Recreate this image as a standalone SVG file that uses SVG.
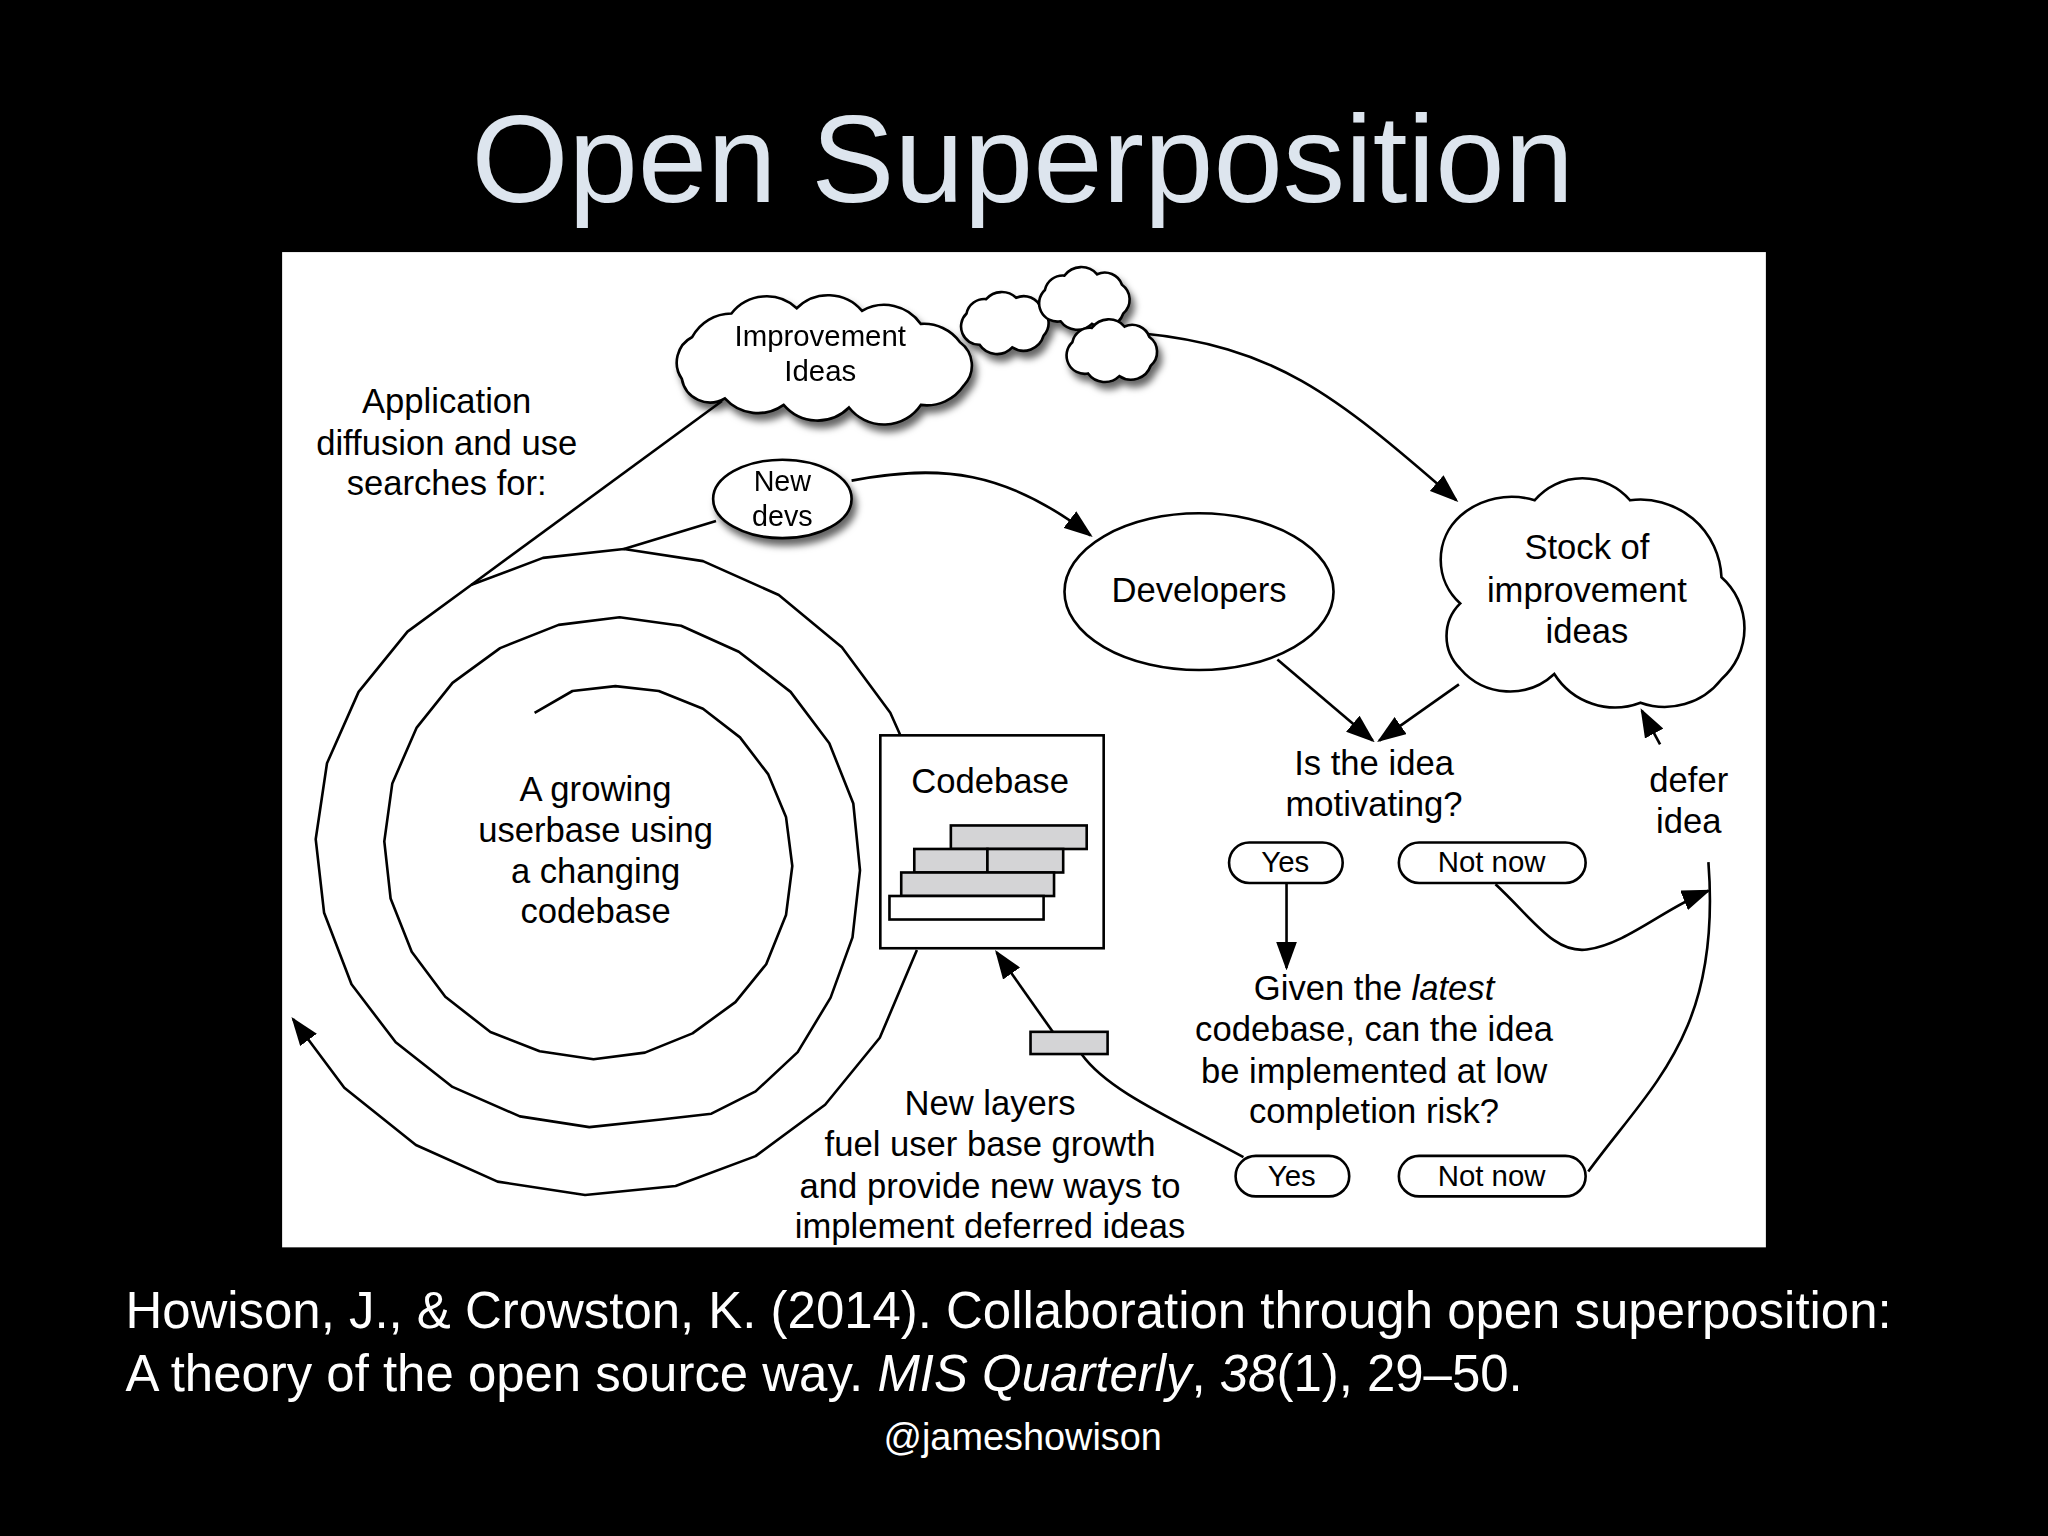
<svg xmlns="http://www.w3.org/2000/svg" width="2048" height="1536" viewBox="0 0 2048 1536">
<defs>
<marker id="ah" markerWidth="11" markerHeight="8" refX="10" refY="4" orient="auto" markerUnits="strokeWidth"><path d="M0,0 L11,4 L0,8 z" fill="#000"/></marker>
<filter id="sh" x="-20%" y="-20%" width="150%" height="160%"><feDropShadow dx="3" dy="5" stdDeviation="3" flood-color="#000" flood-opacity="0.6"/></filter>
</defs>
<style>
.t{font-family:"Liberation Sans",Arial,sans-serif;fill:#000;text-anchor:middle}
.s{fill:#fff;stroke:#000;stroke-width:2}
.l{fill:none;stroke:#000;stroke-width:2}
.sp{fill:none;stroke:#000;stroke-width:2.6;stroke-linejoin:round}
</style>
<rect width="2048" height="1536" fill="#000"/>
<g transform="scale(1.306122)">
<text x="783" y="155" class="t" style="fill:#dde5ee;font-size:95.5px">Open Superposition</text>
<rect x="216" y="193" width="1136" height="762" fill="#fff"/>
<text x="96" y="1017" style="font-family:'Liberation Sans',Arial,sans-serif;font-size:39px;fill:#fff">Howison, J., &amp; Crowston, K. (2014). Collaboration through open superposition:</text>
<text x="96" y="1065" style="font-family:'Liberation Sans',Arial,sans-serif;font-size:39px;fill:#fff">A theory of the open source way. <tspan font-style="italic">MIS Quarterly</tspan>, <tspan font-style="italic">38</tspan>(1), 29–50.</text>
<text x="783" y="1110" class="t" style="fill:#fff;font-size:29px">@jameshowison</text>
</g>
<g id="spiral">
<polyline class="sp" points="534.6,712.8 572.5,691.0 615.4,686.1 658.8,691.0 703.0,708.8 740.0,737.4 768.3,774.4 786.0,816.9 792.3,866.0 786.0,915.1 766.2,964.2 735.4,1002.1 692.5,1033.4 644.9,1052.6 593.5,1059.3 539.7,1051.2 490.4,1032.0 445.3,996.8 411.7,951.7 390.6,898.5 384.3,841.4 392.3,783.4 416.7,727.6 452.5,682.9 500.1,648.1 558.6,624.9 619.6,617.3 681.1,625.8 738.8,651.7 790.6,691.9 829.3,743.2 853.3,803.5 860.0,870.4 852.5,937.4 830.6,997.6 797.7,1052.1 755.6,1091.4 711.4,1113.7 660.9,1119.5 589.3,1127.1 519.9,1116.4 452.5,1086.9 395.7,1042.3 351.5,984.3 324.1,912.8 315.7,839.2 327.0,763.3 358.6,691.9 407.5,631.6 471.5,584.7 543.0,557.9 623.9,549.0 703.0,561.1 778.8,595.0 841.9,647.2 890.3,712.8 900.9,736.5"/>
<polyline class="sp" marker-end="url(#ah)" points="916.9,950 879.8,1037.8 825.1,1104.8 755.6,1156.1 675.6,1186.0 585.1,1195.0 497.6,1181.6 415.9,1145.0 344.3,1087.8 293,1019"/>
<line class="sp" x1="471.5" y1="584.7" x2="722" y2="401"/>
<line class="sp" x1="623.9" y1="549" x2="716" y2="521"/>
</g>
<g transform="scale(1.306122)">
<g id="connectors">
<path class="l" marker-end="url(#ah)" d="M652,368 C720,355 770,360 835,410"/>
<path class="l" marker-end="url(#ah)" d="M872,255 C975,265 1020,300 1115,383"/>
<line class="l" marker-end="url(#ah)" x1="978" y1="505" x2="1051" y2="567"/>
<line class="l" marker-end="url(#ah)" x1="1117" y1="524" x2="1056" y2="567"/>
<line class="l" marker-end="url(#ah)" x1="985" y1="676" x2="985" y2="741"/>
<path class="l" marker-end="url(#ah)" d="M1145,677 C1175,705 1190,730 1215,727 C1245,723 1275,695 1308,682"/>
<path class="l" d="M1216,897 C1265,830 1318,790 1308,660"/>
<line class="l" marker-end="url(#ah)" x1="1271" y1="570" x2="1257" y2="544"/>
<path class="l" d="M952,886 C895,855 848,835 828,807"/>
<line class="l" marker-end="url(#ah)" x1="806" y1="790" x2="763" y2="729"/>
</g>
<g id="improvement-ideas" filter="url(#sh)">
<path class="s" d="M530,258 A34,34 0 0 1 560,240 A34,34 0 0 1 610,236 A34,34 0 0 1 660,238 A34,34 0 0 1 705,248 A34,34 0 0 1 735,262 A22,22 0 0 1 738,295 A34,34 0 0 1 705,310 A34,34 0 0 1 650,312 A34,34 0 0 1 600,310 A34,34 0 0 1 555,305 A22,22 0 0 1 522,290 A22,22 0 0 1 530,258 z"/>
<text x="628" y="265" class="t" font-size="22.5">Improvement</text>
<text x="628" y="292" class="t" font-size="22.5">Ideas</text>
</g>
<g id="small-clouds" filter="url(#sh)">
<path class="s" d="M740,240 A14,14 0 0 1 755,229 A16,16 0 0 1 778,228 A14,14 0 0 1 797,236 A14,14 0 0 1 799,257 A16,16 0 0 1 775,266 A16,16 0 0 1 750,264 A14,14 0 0 1 740,240 z"/>
<path class="s" d="M800,222 A14,14 0 0 1 815,211 A16,16 0 0 1 840,210 A14,14 0 0 1 859,218 A14,14 0 0 1 860,240 A16,16 0 0 1 836,248 A16,16 0 0 1 812,246 A14,14 0 0 1 800,222 z"/>
<path class="s" d="M821,262 A14,14 0 0 1 836,251 A16,16 0 0 1 861,250 A14,14 0 0 1 880,258 A14,14 0 0 1 881,280 A16,16 0 0 1 857,288 A16,16 0 0 1 833,286 A14,14 0 0 1 821,262 z"/>
</g>
<g id="new-devs" filter="url(#sh)">
<ellipse class="s" cx="599" cy="382" rx="53" ry="30"/>
<text x="599" y="376" class="t" font-size="22">New</text>
<text x="599" y="403" class="t" font-size="22">devs</text>
</g>
<g id="application-label">
<text x="342" y="316" class="t" font-size="26.5">Application</text>
<text x="342" y="348" class="t" font-size="26.5">diffusion and use</text>
<text x="342" y="379" class="t" font-size="26.5">searches for:</text>
</g>
<g id="userbase-label">
<text x="456" y="613" class="t" font-size="26.5">A growing</text>
<text x="456" y="645" class="t" font-size="26.5">userbase using</text>
<text x="456" y="676" class="t" font-size="26.5">a changing</text>
<text x="456" y="707" class="t" font-size="26.5">codebase</text>
</g>
<g id="developers">
<ellipse class="s" cx="918" cy="453" rx="103" ry="60"/>
<text x="918" y="461" class="t" font-size="26.5">Developers</text>
</g>
<g id="stock">
<path class="s" d="M1118,395 A60,60 0 0 1 1175,383 A48,48 0 0 1 1248,383 A62,62 0 0 1 1318,442 A52,52 0 0 1 1318,520 A55,55 0 0 1 1256,538 A55,55 0 0 1 1190,516 A50,50 0 0 1 1118,512 A35,35 0 0 1 1118,462 A45,45 0 0 1 1118,395 z"/>
<text x="1215" y="428" class="t" font-size="26.5">Stock of</text>
<text x="1215" y="461" class="t" font-size="26.5">improvement</text>
<text x="1215" y="492" class="t" font-size="26.5">ideas</text>
</g>
<g id="codebase">
<rect class="s" x="674" y="563" width="171" height="163"/>
<text x="758" y="607" class="t" font-size="26.5">Codebase</text>
<rect x="728" y="632" width="104" height="18" fill="#d4d4d6" stroke="#000" stroke-width="2"/>
<rect x="700" y="650" width="56" height="18" fill="#d4d4d6" stroke="#000" stroke-width="2"/>
<rect x="756" y="650" width="58" height="18" fill="#d4d4d6" stroke="#000" stroke-width="2"/>
<rect x="690" y="668" width="117" height="18" fill="#d4d4d6" stroke="#000" stroke-width="2"/>
<rect x="681" y="686" width="118" height="18" fill="#fff" stroke="#000" stroke-width="2"/>
</g>
<g id="new-layer">
<rect x="789" y="790" width="59" height="17" fill="#d4d4d6" stroke="#000" stroke-width="2"/>
</g>
<g id="question1">
<text x="1052" y="593" class="t" font-size="26.5">Is the idea</text>
<text x="1052" y="625" class="t" font-size="26.5">motivating?</text>
</g>
<g id="yes1"><rect class="s" x="941" y="645" width="87" height="31" rx="15.5"/><text x="984" y="668" class="t" font-size="22.5">Yes</text></g>
<g id="notnow1"><rect class="s" x="1071" y="645" width="143" height="31" rx="15.5"/><text x="1142" y="668" class="t" font-size="22.5">Not now</text></g>
<g id="question2">
<text x="1052" y="766" class="t" font-size="26.5">Given the <tspan font-style="italic">latest</tspan></text>
<text x="1052" y="797" class="t" font-size="26.5">codebase, can the idea</text>
<text x="1052" y="829" class="t" font-size="26.5">be implemented at low</text>
<text x="1052" y="860" class="t" font-size="26.5">completion risk?</text>
</g>
<g id="yes2"><rect class="s" x="946" y="885" width="87" height="31" rx="15.5"/><text x="989" y="908" class="t" font-size="22.5">Yes</text></g>
<g id="notnow2"><rect class="s" x="1071" y="885" width="143" height="31" rx="15.5"/><text x="1142" y="908" class="t" font-size="22.5">Not now</text></g>
<g id="defer">
<text x="1293" y="606" class="t" font-size="26.5">defer</text>
<text x="1293" y="638" class="t" font-size="26.5">idea</text>
</g>
<g id="newlayers-label">
<text x="758" y="854" class="t" font-size="26.5">New layers</text>
<text x="758" y="885" class="t" font-size="26.5">fuel user base growth</text>
<text x="758" y="917" class="t" font-size="26.5">and provide new ways to</text>
<text x="758" y="948" class="t" font-size="26.5">implement deferred ideas</text>
</g>
</g>
</svg>
